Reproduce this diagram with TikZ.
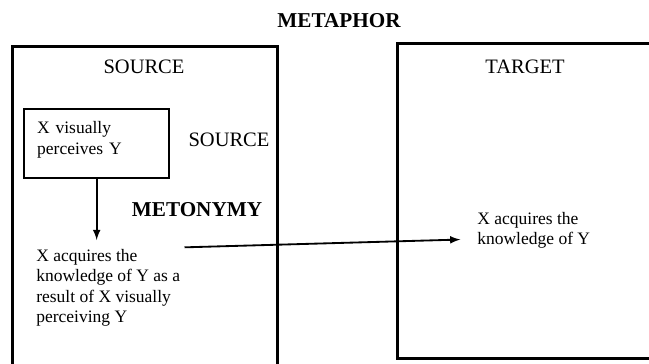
\documentclass[tikz,border=0pt]{standalone}
\usepackage{fontspec}
\setmainfont{Liberation Serif}
\usetikzlibrary{positioning}

\begin{document}
\begin{tikzpicture}[x=0.6pt,y=-0.6pt,font=\fontsize{12.3}{12.5}\selectfont,
  frame/.style={line width=1.8pt},
  head/.style={font=\fontsize{12.7}{13}\selectfont\bfseries},
  txt/.style={inner sep=0pt,align=left,anchor=north west,font=\fontsize{10.5}{12.3}\selectfont},
  arr/.style={line width=1.1pt,->,>=latex}]
\useasboundingbox (0,0) rectangle (649,363);
\clip (0,0) rectangle (649,363);
\draw [frame] (12,46) rectangle (277,380);
\draw [frame] (397,43) rectangle (680,358);
\node [head] (metaphor) at (339,21) {METAPHOR};
\node (srctitle) at (144,67) {SOURCE};
\node (tgttitle) at (525,67) {TARGET};
\node [draw,line width=1.4pt,anchor=north west,minimum height=41.4pt,text width=71.4pt,inner xsep=7.8pt,align=left,font=\fontsize{10.5}{13}\selectfont] (perceive) at (23,108) {X visually\\perceives Y\\[-6pt]\mbox{}};
\node (srclabel) at (229,140) {SOURCE};
\node [head] (metonymy) at (197,210) {METONYMY};
\node [txt] (acquire) at (36,249) {X acquires the\\knowledge of Y as a\\result of X visually\\perceiving Y};
\node [txt] (knowledge) at (477,212) {X acquires the\\knowledge of Y};
\draw [arr] (perceive.south) -- ([yshift=5.4pt]perceive.south |- acquire.north);
\draw [arr] ([xshift=2.4pt,yshift=1pt]acquire.north east) -- ([xshift=-10pt,yshift=-5.4pt]knowledge.west);
\end{tikzpicture}
\end{document}
